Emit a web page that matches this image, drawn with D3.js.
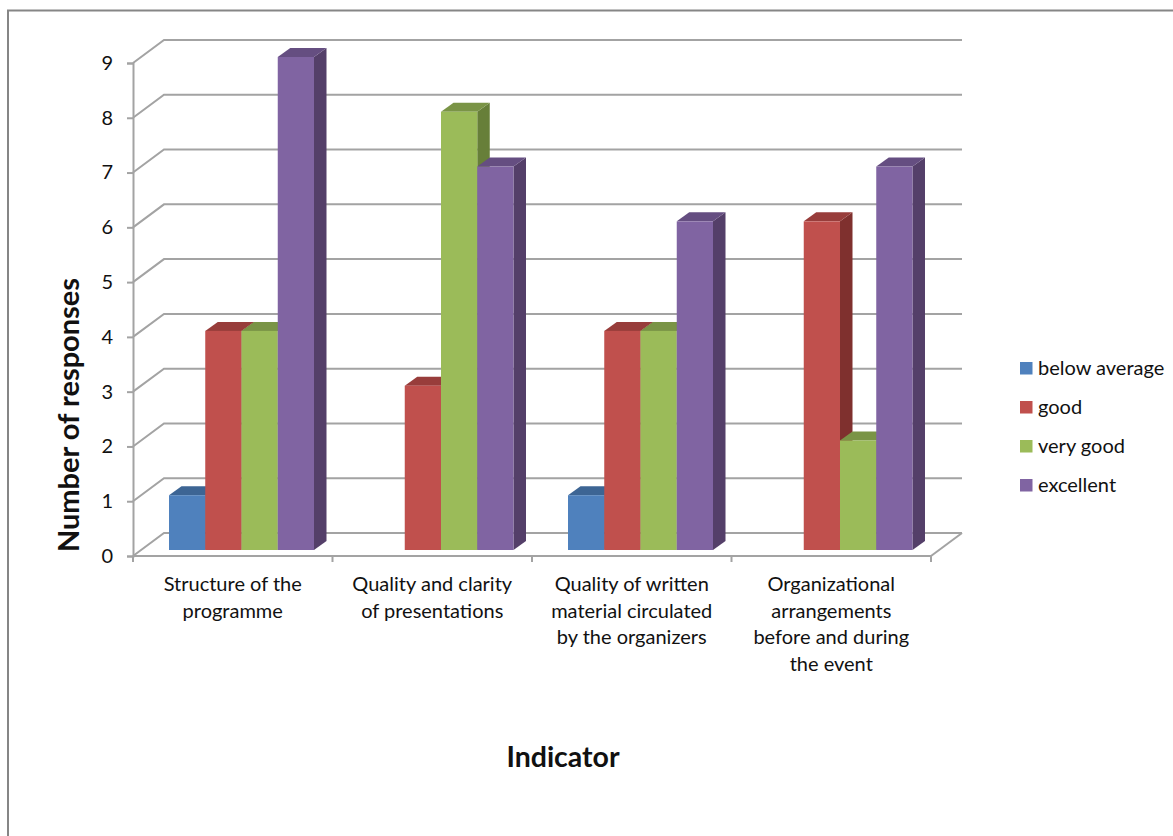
<!DOCTYPE html>
<html>
<head>
<meta charset="utf-8">
<script src="https://cdn.jsdelivr.net/npm/d3@7"></script>
<style>
html,body{margin:0;padding:0;background:#fff;}
svg{display:block;}
text{font-family:Lato,"Open Sans",sans-serif;fill:#111;}
</style>
</head>
<body>
<svg id="chart"></svg>
<script>
const categories = ["Structure of the programme","Quality and clarity of presentations","Quality of written material circulated by the organizers","Organizational arrangements before and during the event"];
const categoryLines = [
    ["Structure of the","programme"],
    ["Quality and clarity","of presentations"],
    ["Quality of written","material circulated","by the organizers"],
    ["Organizational","arrangements","before and during","the event"]
];
const seriesNames = ["below average","good","very good","excellent"];
const belowAverage = [1,0,1,0];
const good = [4,3,4,6];
const veryGood = [4,8,4,2];
const excellent = [9,7,6,7];
const seriesValues = [belowAverage,good,veryGood,excellent];
const yTicks = [0,1,2,3,4,5,6,7,8,9];

const frontColors = ["#4f81bd","#c0504d","#9bbb59","#8064a2"];
const topColors = ["#3d6594","#983d3b","#7a9446","#654e81"];
const sideColors = ["#345681","#7f302e","#677f39","#543f69"];

const width = 1173, height = 836;
const svg = d3.select("#chart").attr("width",width).attr("height",height);

// frame of the pasted picture
svg.append("path").attr("d","M8,836V10.5H1173").attr("fill","none").attr("stroke","#868686").attr("stroke-width",2);

const x = d3.scaleBand().domain(categories).range([133,931]);
const y = d3.scaleLinear().domain([0,9]).range([556,63]);
const inner = d3.scaleBand().domain(seriesNames).range([28,173]);

// 3d offsets
const wallDx = 31, wallDy = -23;
const barDx = 8, barDy = -6;
const depthDx = 12.5, depthDy = -9;
const gridColor = "#a3a3a3";

// walls
yTicks.forEach(v=>{
    svg.append("path")
        .attr("d",`M${x.range()[0]},${y(v)}l${wallDx},${wallDy}H${x.range()[1]+wallDx}`)
        .attr("fill","none").attr("stroke",gridColor).attr("stroke-width",2);
});
svg.append("path")
    .attr("d",`M${x.range()[1]},${y(0)}l${wallDx},${wallDy}`)
    .attr("fill","none").attr("stroke",gridColor).attr("stroke-width",2);

// y axis
const yAxis = svg.append("g").attr("transform",`translate(${x.range()[0]},0)`)
    .call(d3.axisLeft(y).tickValues(yTicks).tickSize(6).tickPadding(14).tickFormat(d3.format("d")));
yAxis.selectAll("path,line").attr("stroke",gridColor).attr("stroke-width",2);
yAxis.selectAll("text").attr("font-size",20).attr("font-family","Lato,sans-serif").attr("fill","#111");

// x axis
svg.append("line").attr("x1",x.range()[0]).attr("x2",x.range()[1]).attr("y1",y(0)).attr("y2",y(0))
    .attr("stroke",gridColor).attr("stroke-width",2);
d3.range(categories.length+1).forEach(i=>{
    const tx = x.range()[0]+i*x.step();
    svg.append("line").attr("x1",tx).attr("x2",tx).attr("y1",y(0)).attr("y2",y(0)+6)
        .attr("stroke",gridColor).attr("stroke-width",2);
});

// bars
categories.forEach((c,ci)=>{
    seriesNames.forEach((s,si)=>{
        const v = seriesValues[si][ci];
        if(!v) return;
        const x0 = x(c)+barDx+inner(s), x1 = x0+inner.bandwidth();
        const yb = y(0)+barDy, yt = y(v)+barDy;
        const g = svg.append("g");
        g.append("path").attr("fill",sideColors[si])
            .attr("d",`M${x1},${yt}l${depthDx},${depthDy}V${yb+depthDy}L${x1},${yb}Z`);
        g.append("path").attr("fill",topColors[si])
            .attr("d",`M${x0},${yt}l${depthDx},${depthDy}H${x1+depthDx}L${x1},${yt}Z`);
        g.append("rect").attr("fill",frontColors[si])
            .attr("x",x0).attr("y",yt).attr("width",inner.bandwidth()).attr("height",yb-yt);
    });
});

// category labels
categories.forEach((c,ci)=>{
    categoryLines[ci].forEach((line,li)=>{
        svg.append("text").attr("x",x(c)+x.bandwidth()/2).attr("y",591+li*26.7)
            .attr("text-anchor","middle").attr("font-size",20).text(line);
    });
});

// axis titles
svg.append("text").attr("transform","translate(79,415) rotate(-90)")
    .attr("text-anchor","middle").attr("font-size",29).attr("font-weight",700).text("Number of responses");
svg.append("text").attr("x",563).attr("y",767)
    .attr("text-anchor","middle").attr("font-size",28.5).attr("font-weight",700).text("Indicator");

// legend
const legendY = d3.scalePoint().domain(seriesNames).range([368,485]);
seriesNames.forEach((s,si)=>{
    svg.append("rect").attr("x",1020).attr("y",legendY(s)-6).attr("width",12.5).attr("height",12.5).attr("fill",frontColors[si]);
    svg.append("text").attr("x",1038).attr("y",legendY(s)+6.5).attr("font-size",20).text(s);
});
</script>
</body>
</html>
